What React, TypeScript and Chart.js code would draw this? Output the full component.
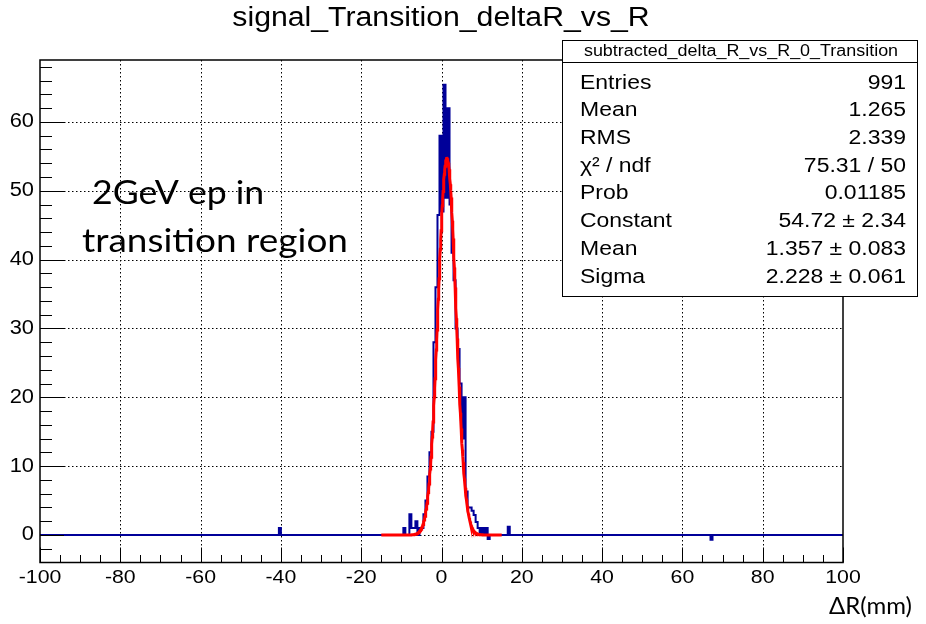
import React, { useEffect, useRef } from "react";
import { Chart, registerables } from "chart.js";
Chart.register(...registerables);

// ---- axis ranges & ticks ----
const X_MIN = -100;
const X_MAX = 100;
const Y_MIN = -4;
const Y_MAX = 69;
const xMajorTicks = [-100, -80, -60, -40, -20, 0, 20, 40, 60, 80, 100];
const xTickLabels = ["-100", "-80", "-60", "-40", "-20", "0", "20", "40", "60", "80", "100"];
const yMajorTicks = [0, 10, 20, 30, 40, 50, 60];
const yTickLabels = ["0", "10", "20", "30", "40", "50", "60"];
const X_MINOR_STEP = 5;
const Y_MINOR_STEP = 2;

// ---- histogram data (bin width 0.5) ----
const BIN_WIDTH = 0.5;
const peakFirstEdge = -10;
const peakCounts = [
  0, 1, 0, 0, 3, 1, 1, 2, 0, 1, // -10 .. -5.5
  1, 3, 5, 8.5, 12, 15, 28, 36, 46.5, 58, // -5 .. -0.5
  47, 65.4, 49, 62, 48, 41, 37, 30, 27, 22, // 0 .. 4.5
  14, 20, 6.3, 4, 4, 3.5, 2.9, 1.9, 1, 0, // 5 .. 9.5
  1, 0, 1, -0.6, 0, 0, // 10 .. 12.5
];
const isolatedEdges = [-40.5, 16.5, 67];
const isolatedCounts = [1, 1.2, -0.7];

// ---- gaus fit ----
const fitConstant = 54.72;
const fitMean = 1.357;
const fitSigma = 2.228;
const fitRange = [-15, 15];

// ---- stats box ----
const statsTitle = "subtracted_delta_R_vs_R_0_Transition";
const statsNames = ["Entries", "Mean", "RMS", "χ² / ndf", "Prob", "Constant", "Mean", "Sigma"];
const statsValues = ["991", "1.265", "2.339", "75.31 / 50", "0.01185", "54.72 ± 2.34", "1.357 ± 0.083", "2.228 ± 0.061"];

const chartTitle = "signal_Transition_deltaR_vs_R";
const xAxisTitle = "ΔR(mm)";
const noteLines = ["2GeV ep in", "transition region"];

const ROOT_FONT = '"Liberation Sans", Arial, sans-serif';
const NOTE_FONT = 'Lato, "Open Sans", sans-serif';
const SX = 1.12;

function buildHistPoints() {
  const bins: { e: number; v: number }[] = [];
  peakCounts.forEach((v, i) => bins.push({ e: peakFirstEdge + i * BIN_WIDTH, v }));
  isolatedEdges.forEach((e, i) => bins.push({ e, v: isolatedCounts[i] }));
  bins.sort((a, b) => a.e - b.e);
  const pts: { x: number; y: number }[] = [{ x: X_MIN, y: 0 }];
  bins.forEach((b, i) => {
    pts.push({ x: b.e, y: b.v });
    const next = bins[i + 1];
    if (!next || Math.abs(next.e - (b.e + BIN_WIDTH)) > 1e-9) pts.push({ x: b.e + BIN_WIDTH, y: 0 });
  });
  pts.push({ x: X_MAX, y: 0 });
  return pts;
}

function buildFitPoints() {
  const pts: { x: number; y: number }[] = [];
  const n = 300;
  for (let i = 0; i <= n; i++) {
    const x = fitRange[0] + ((fitRange[1] - fitRange[0]) * i) / n;
    const z = (x - fitMean) / fitSigma;
    pts.push({ x, y: fitConstant * Math.exp(-0.5 * z * z) });
  }
  return pts;
}

function txt(
  ctx: CanvasRenderingContext2D,
  s: string,
  x: number,
  y: number,
  size: number,
  align: CanvasTextAlign,
  family = ROOT_FONT,
  sx = SX
) {
  ctx.save();
  ctx.font = `${size}px ${family}`;
  ctx.textBaseline = "middle";
  ctx.textAlign = align;
  ctx.fillStyle = "#000";
  ctx.translate(x, y);
  ctx.scale(sx, 1);
  ctx.fillText(s, 0, 0);
  ctx.restore();
}

const rootPlugin = {
  id: "rootStyle",
  beforeDatasetsDraw(chart: any) {
    const { ctx, chartArea: a, scales } = chart;
    const xs = scales.x;
    const ys = scales.y;
    ctx.save();
    ctx.strokeStyle = "#000";
    ctx.lineWidth = 1;
    ctx.setLineDash([1.5, 2.5]);
    xMajorTicks.forEach((v) => {
      if (v <= X_MIN || v >= X_MAX) return;
      const px = Math.round(xs.getPixelForValue(v)) + 0.5;
      ctx.beginPath();
      ctx.moveTo(px, a.top);
      ctx.lineTo(px, a.bottom);
      ctx.stroke();
    });
    yMajorTicks.forEach((v) => {
      const py = Math.round(ys.getPixelForValue(v)) + 0.5;
      ctx.beginPath();
      ctx.moveTo(a.left, py);
      ctx.lineTo(a.right, py);
      ctx.stroke();
    });
    ctx.restore();
  },
  afterDraw(chart: any) {
    const { ctx, chartArea: a, scales } = chart;
    const xs = scales.x;
    const ys = scales.y;
    ctx.save();
    ctx.strokeStyle = "#000";
    ctx.lineWidth = 1.5;
    ctx.setLineDash([]);
    ctx.strokeRect(a.left, a.top, a.right - a.left, a.bottom - a.top);

    // x ticks
    ctx.lineWidth = 1;
    for (let v = X_MIN; v <= X_MAX + 1e-9; v += X_MINOR_STEP) {
      const px = Math.round(xs.getPixelForValue(v)) + 0.5;
      const major = xMajorTicks.includes(v);
      ctx.beginPath();
      ctx.moveTo(px, a.bottom);
      ctx.lineTo(px, a.bottom - (major ? 15 : 7.5));
      ctx.stroke();
    }
    // y ticks
    for (let v = Math.ceil(Y_MIN / Y_MINOR_STEP) * Y_MINOR_STEP; v <= Y_MAX; v += Y_MINOR_STEP) {
      if (v <= Y_MIN) continue;
      const py = Math.round(ys.getPixelForValue(v)) + 0.5;
      const major = yMajorTicks.includes(v);
      ctx.beginPath();
      ctx.moveTo(a.left, py);
      ctx.lineTo(a.left + (major ? 24 : 12), py);
      ctx.stroke();
    }
    ctx.restore();

    // tick labels
    xMajorTicks.forEach((v, i) => txt(ctx, xTickLabels[i], xs.getPixelForValue(v), 578, 19, "center"));
    yMajorTicks.forEach((v, i) => txt(ctx, yTickLabels[i], 34, ys.getPixelForValue(v), 19.5, "right"));

    // title
    txt(ctx, chartTitle, 441, 19, 27, "center");
    // axis title
    txt(ctx, xAxisTitle, 912, 606, 24, "right", NOTE_FONT, 1);
    // notes
    txt(ctx, noteLines[0], 92, 193, 33, "left", NOTE_FONT, 1.08);
    txt(ctx, noteLines[1], 82, 241, 33, "left", NOTE_FONT, 1.12);

    // stats box
    const bx = 562.5, by = 40.5, bw = 355, bh = 256;
    ctx.save();
    ctx.fillStyle = "#fff";
    ctx.fillRect(bx, by, bw, bh);
    ctx.strokeStyle = "#000";
    ctx.lineWidth = 1;
    ctx.strokeRect(bx, by, bw, bh);
    ctx.beginPath();
    ctx.moveTo(bx, 62.5);
    ctx.lineTo(bx + bw, 62.5);
    ctx.stroke();
    ctx.restore();
    txt(ctx, statsTitle, 741, 52, 16, "center");
    statsNames.forEach((n, i) => {
      const y = 83 + i * 27.7;
      txt(ctx, n, 580, y, 20.5, "left");
      txt(ctx, statsValues[i], 906, y, 20.5, "right");
    });
  },
};

export default function App() {
  const ref = useRef<HTMLCanvasElement | null>(null);
  useEffect(() => {
    document.body.style.margin = "0";
    const canvas = ref.current!;
    const chart = new Chart(canvas, {
      type: "scatter",
      data: {
        datasets: [
          {
            label: "fit",
            data: buildFitPoints(),
            showLine: true,
            borderColor: "#ff0000",
            borderWidth: 3,
            pointRadius: 0,
            tension: 0,
          },
          {
            label: "hist",
            data: buildHistPoints(),
            showLine: true,
            stepped: true,
            borderColor: "#000099",
            borderWidth: 2,
            pointRadius: 0,
          },
        ],
      },
      options: {
        responsive: false,
        animation: false,
        devicePixelRatio: 1,
        events: [],
        layout: { padding: { left: 40, right: 83, top: 60, bottom: 61.5 } },
        plugins: { legend: { display: false }, tooltip: { enabled: false }, title: { display: false } },
        scales: {
          x: { type: "linear", min: X_MIN, max: X_MAX, display: false },
          y: { type: "linear", min: Y_MIN, max: Y_MAX, display: false },
        },
      },
      plugins: [rootPlugin],
    });
    return () => chart.destroy();
  }, []);
  return <canvas ref={ref} width={926} height={624} style={{ display: "block" }} />;
}
